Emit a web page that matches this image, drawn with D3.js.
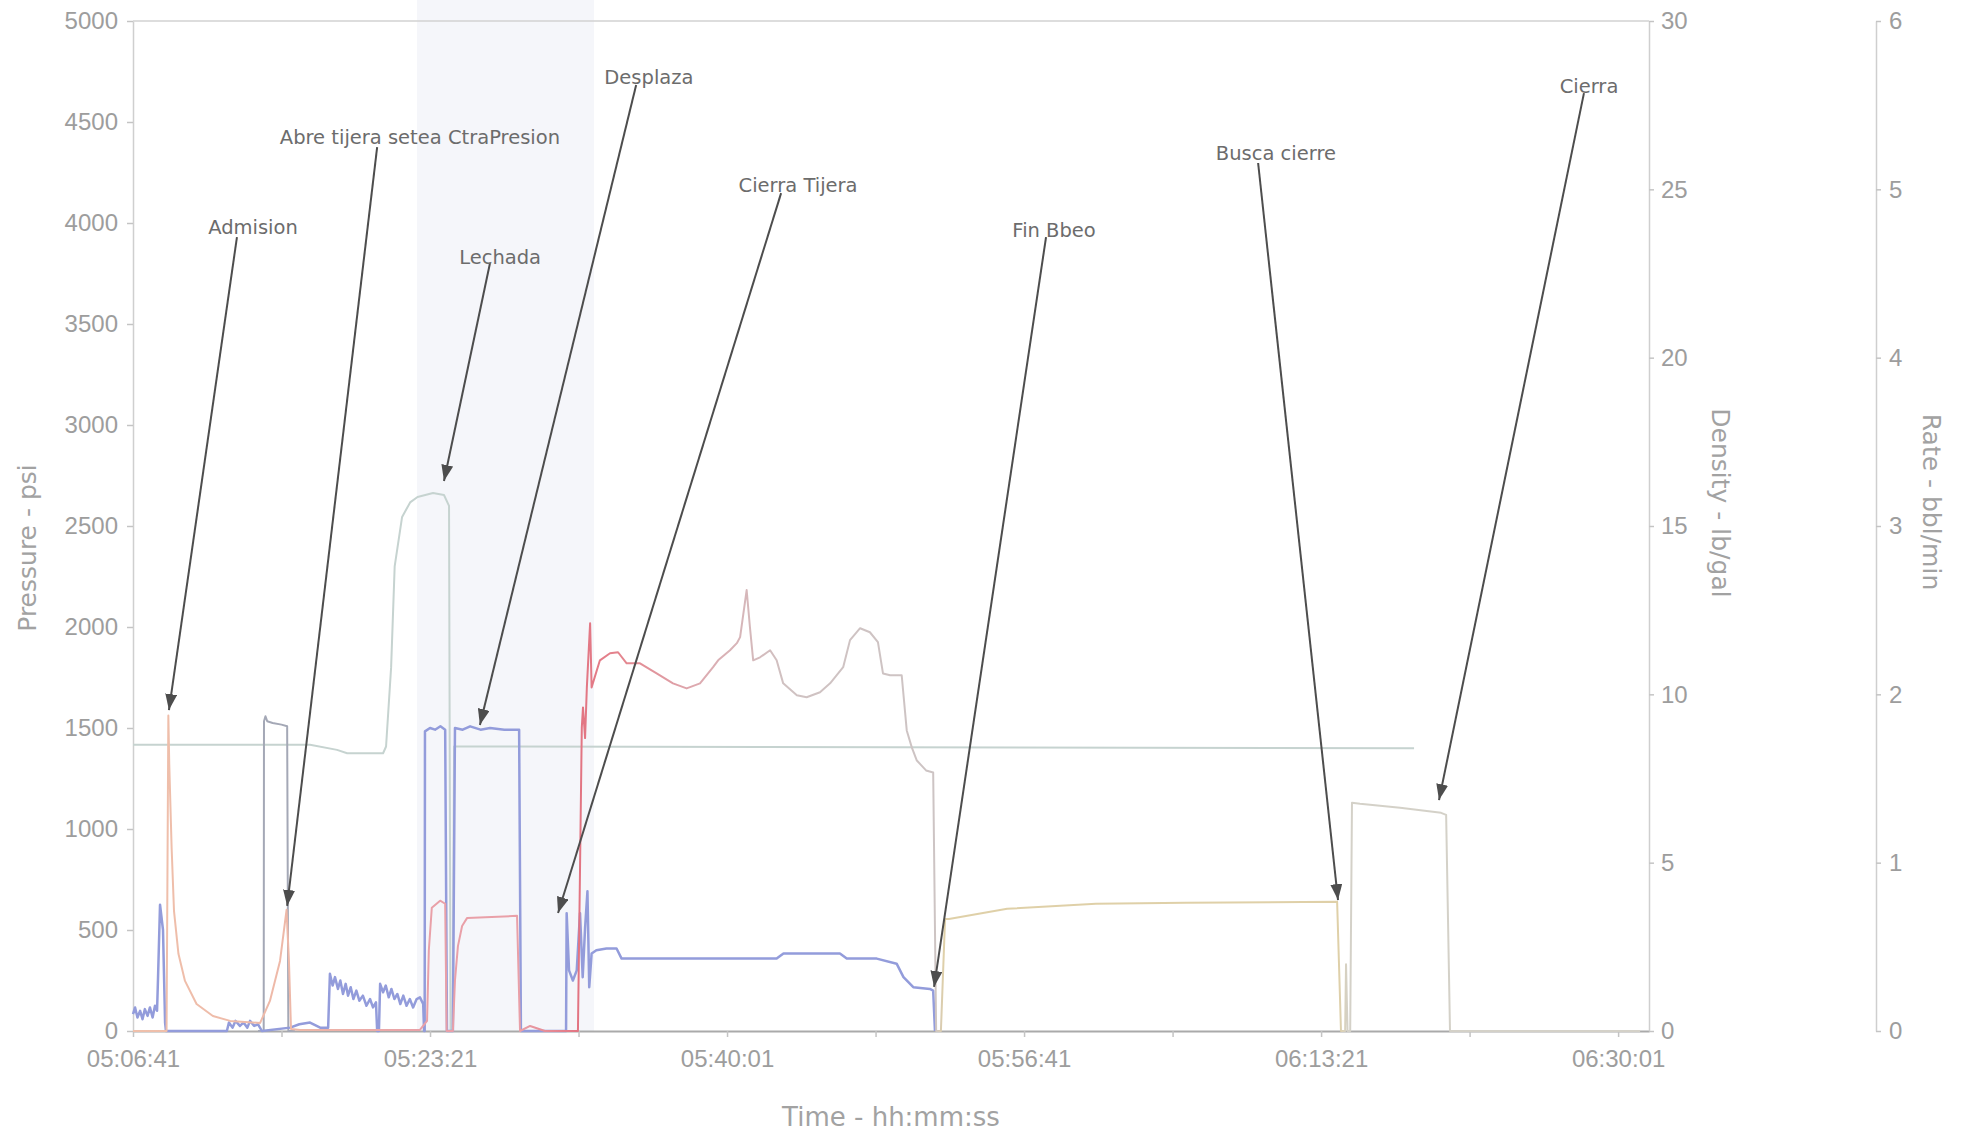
<!DOCTYPE html>
<html>
<head>
<meta charset="utf-8">
<title>Pressure / Density / Rate</title>
<script src="https://cdn.jsdelivr.net/npm/d3@7"></script>
<style>
  body { margin: 0; background: #fff; }
  svg { display: block; font-family: "DejaVu Sans", Verdana, sans-serif; }
  .axis .domain { stroke: #cfcfcf; stroke-width: 1.5; }
  .axis .tick line { stroke: #c4c4c4; stroke-width: 1.5; }
  .axis .tick text { fill: #9d9d9d; font-size: 24px; }
  .axis.x .domain { stroke: #aaaaaa; stroke-width: 2; }
  .title { fill: #a2a2a2; font-size: 25px; }
  .note text { fill: #6c6c6c; font-size: 19.5px; }
  .note line { stroke: #4d4d4d; stroke-width: 2; }
  .series { fill: none; stroke-linejoin: round; }
</style>
</head>
<body>
<svg id="chart" width="1962" height="1137"></svg>
<script>
// all times are seconds after the first sample (05:06:41)
const startClock = "05:06:41";
const endClock = "06:31:45";
const timeTickLabels = ["05:06:41", "05:23:21", "05:40:01", "05:56:41", "06:13:21", "06:30:01"];

const pressureTicks = [0, 500, 1000, 1500, 2000, 2500, 3000, 3500, 4000, 4500, 5000];
const densityTicks = [0, 5, 10, 15, 20, 25, 30];
const rateTicks = [0, 1, 2, 3, 4, 5, 6];

// Pressure - psi
const pressureTime = [0, 113, 119, 122, 130, 138, 153, 175, 214, 269, 327, 428, 461, 495, 517, 525, 532, 562,
  966, 990, 996, 1006, 1034, 1051, 1056, 1077, 1084, 1094, 1108, 1125, 1293, 1303, 1337, 1387,
  1498, 1505, 1511, 1515, 1522, 1528, 1539, 1544, 1572, 1606, 1633, 1662, 1707, 1763, 1818, 1864,
  1909, 1953, 1970, 2010, 2033, 2044, 2066, 2077, 2088, 2111, 2145, 2167, 2189, 2235, 2268, 2313,
  2347, 2391, 2414, 2448, 2481, 2508, 2525, 2549, 2588, 2605, 2622, 2639, 2670, 2694, 2704, 2720,
  2734, 2747, 2943, 3242, 3545, 4054, 4067, 4081, 4084, 4089, 4098, 4104, 4131, 4266, 4404, 4421,
  4434, 5074];
const pressureValue = [0, 0, 1562, 1324, 908, 595, 382, 248, 134, 74, 50, 40, 149, 347, 600, 347, 10, 5,
  5, 50, 400, 610, 645, 630, 0, 0, 250, 420, 520, 560, 570, 0, 25, 0,
  0, 800, 1503, 1602, 1450, 1701, 2019, 1701, 1835, 1870, 1875, 1820, 1820, 1770, 1721, 1696,
  1721, 1801, 1835, 1885, 1920, 1950, 2183, 2000, 1835, 1850, 1885, 1835, 1721, 1662, 1652, 1677,
  1721, 1801, 1935, 1994, 1974, 1925, 1770, 1761, 1761, 1488, 1404, 1339, 1290, 1280, 0, 0,
  555, 555, 605, 630, 635, 640, 0, 0, 330, 0, 0, 1130, 1125, 1105, 1080, 1070,
  0, 0];

// Density - lb/gal
const densityTime = [0, 596, 687, 721, 842, 852, 869, 881, 906, 933, 958, 1010, 1047, 1064, 1069, 1076, 1081, 4313];
const densityValue = [8.5, 8.5, 8.35, 8.25, 8.25, 8.45, 10.8, 13.8, 15.27, 15.7, 15.86, 15.98, 15.92, 15.6, 0, 0, 8.45, 8.4];

// Rate - bbl/min (blue trace)
const rateTime = [0, 7, 15, 24, 32, 40, 49, 57, 66, 74, 81, 84, 91, 101, 108, 111, 316, 323, 335, 345,
  360, 372, 385, 394, 408, 421, 434, 529, 560, 596, 630, 657, 663, 672, 680, 690, 698, 707, 716, 724,
  733, 742, 752, 762, 774, 786, 798, 808, 818, 822, 828, 832, 842, 851, 861, 870, 880, 890, 900, 910,
  921, 932, 943, 955, 966, 977, 980, 982, 983, 1000, 1017, 1035, 1051, 1057, 1077, 1084, 1110, 1135,
  1170, 1202, 1250, 1300, 1306, 1458, 1460, 1468, 1481, 1494, 1505, 1514, 1522, 1530, 1536, 1544,
  1560, 1594, 1628, 1645, 1898, 2167, 2190, 2380, 2403, 2504, 2571, 2594, 2627, 2683, 2694, 2700];
const rateValue = [0.10, 0.14, 0.08, 0.12, 0.07, 0.13, 0.09, 0.14, 0.08, 0.15, 0.12, 0.3, 0.75, 0.6, 0.05, 0, 0, 0.05, 0.02, 0.06,
  0.03, 0.05, 0.02, 0.06, 0.03, 0.04, 0, 0.02, 0.04, 0.05, 0.02, 0.02, 0.34, 0.27, 0.32, 0.25, 0.3, 0.22, 0.28, 0.21,
  0.26, 0.19, 0.24, 0.18, 0.21, 0.15, 0.19, 0.14, 0.17, 0, 0, 0.28, 0.23, 0.27, 0.2, 0.25, 0.19, 0.22, 0.16, 0.21,
  0.15, 0.19, 0.14, 0.19, 0.2, 0.16, 0, 0, 1.78, 1.80, 1.79, 1.81, 1.79, 0, 0, 1.80, 1.79, 1.81,
  1.79, 1.80, 1.79, 1.79, 0, 0, 0.70, 0.36, 0.30, 0.36, 0.70, 0.32, 0.61, 0.83, 0.26, 0.46,
  0.48, 0.49, 0.49, 0.43, 0.43, 0.43, 0.46, 0.46, 0.43, 0.43, 0.40, 0.32, 0.26, 0.25, 0.24, 0];

// second rate trace (grey)
const rate2Time = [421, 440, 441, 446, 452, 470, 500, 519, 523, 545];
const rate2Value = [0, 0, 1.84, 1.87, 1.84, 1.83, 1.82, 1.81, 0, 0];

// annotations: tip (t, p), start of the leader (fromT, fromP), text centre (textT, textP)
const notes = [
  { label: "Admision", t: 121, p: 1589, fromT: 350, fromP: 3930, textT: 404, textP: 3980 },
  { label: "Abre tijera setea CtraPresion", t: 519, p: 619, fromT: 822, fromP: 4376, textT: 966, textP: 4425 },
  { label: "Lechada", t: 1047, p: 2723, fromT: 1202, fromP: 3802, textT: 1236, textP: 3831 },
  { label: "Desplaza", t: 1168, p: 1515, fromT: 1694, fromP: 4683, textT: 1737, textP: 4722 },
  { label: "Cierra Tijera", t: 1431, p: 584, fromT: 2182, fromP: 4148, textT: 2239, textP: 4188 },
  { label: "Fin Bbeo", t: 2697, p: 218, fromT: 3074, fromP: 3930, textT: 3101, textP: 3965 },
  { label: "Busca cierre", t: 4057, p: 648, fromT: 3788, fromP: 4297, textT: 3848, textP: 4346 },
  { label: "Cierra", t: 4397, p: 1143, fromT: 4885, fromP: 4643, textT: 4902, textP: 4678 }
];

const parseClock = d3.timeParse("%H:%M:%S");
const fmtClock = d3.timeFormat("%H:%M:%S");
const t0 = parseClock(startClock);
const at = s => new Date(t0.getTime() + s * 1000);

const plotLeft = 133, plotTop = 21, plotRight = 1649, plotBottom = 1031;
const rateAxisX = 1876;

const svg = d3.select("#chart");

const x = d3.scaleTime().domain([t0, parseClock(endClock)]).range([plotLeft, plotRight]);
const yP = d3.scaleLinear().domain([0, 5000]).range([plotBottom, plotTop]);
const yD = d3.scaleLinear().domain([0, 30]).range([plotBottom, plotTop]);
const yR = d3.scaleLinear().domain([0, 6]).range([plotBottom, plotTop]);

// faint band left by the scan
svg.append("rect").attr("x", 417).attr("y", 0).attr("width", 177).attr("height", plotBottom).attr("fill", "#f5f6fa");

const defs = svg.append("defs");
defs.append("marker")
  .attr("id", "arrow")
  .attr("markerUnits", "userSpaceOnUse")
  .attr("viewBox", "0 0 16 12")
  .attr("markerWidth", 16).attr("markerHeight", 12)
  .attr("refX", 16).attr("refY", 6)
  .attr("orient", "auto")
  .append("path").attr("d", "M0,0L16,6L0,12Z").attr("fill", "#4d4d4d");

// pressure trace colour drifts along the record
const pressureStops = [[0, "#efc0ab"], [560, "#eeb8a8"], [980, "#e9a0a8"], [1300, "#e9a0a8"], [1500, "#e27482"],
  [1650, "#e4868f"], [1900, "#ddaab0"], [2200, "#d0c2c2"], [2700, "#cdc4c4"], [2730, "#dfd0a8"],
  [4060, "#dfd0a8"], [4090, "#d4d1c8"], [5104, "#d4d1c8"]];
const grad = defs.append("linearGradient")
  .attr("id", "pGrad")
  .attr("gradientUnits", "userSpaceOnUse")
  .attr("x1", plotLeft).attr("x2", plotRight).attr("y1", 0).attr("y2", 0);
pressureStops.forEach(([s, c]) => {
  grad.append("stop").attr("offset", (x(at(s)) - plotLeft) / (plotRight - plotLeft)).attr("stop-color", c);
});

// axes
const minorTimes = d3.range(0, 5001, 500).map(at);
const labelSet = new Set(timeTickLabels);

svg.append("g").attr("class", "axis x")
  .attr("transform", `translate(0,${plotBottom})`)
  .call(d3.axisBottom(x).tickValues(minorTimes).tickSize(6).tickSizeOuter(0).tickPadding(13)
    .tickFormat(d => labelSet.has(fmtClock(d)) ? fmtClock(d) : ""));

svg.append("g").attr("class", "axis")
  .attr("transform", `translate(${plotLeft},0)`)
  .call(d3.axisLeft(yP).tickValues(pressureTicks).tickFormat(d3.format("d"))
    .tickSize(6).tickSizeOuter(0).tickPadding(9));

svg.append("g").attr("class", "axis")
  .attr("transform", `translate(${plotRight},0)`)
  .call(d3.axisRight(yD).tickValues(densityTicks).tickFormat(d3.format("d"))
    .tickSize(5).tickSizeOuter(0).tickPadding(7));

svg.append("g").attr("class", "axis")
  .attr("transform", `translate(${rateAxisX},0)`)
  .call(d3.axisRight(yR).tickValues(rateTicks).tickFormat(d3.format("d"))
    .tickSize(5).tickSizeOuter(0).tickPadding(8));

svg.append("line")
  .attr("x1", plotLeft).attr("x2", plotRight).attr("y1", plotTop).attr("y2", plotTop)
  .attr("stroke", "#d2d2d2").attr("stroke-width", 1.5);

// axis titles
svg.append("text").attr("class", "title")
  .attr("transform", "translate(27,548) rotate(-90)")
  .attr("text-anchor", "middle").attr("dy", "0.35em")
  .text("Pressure - psi");
svg.append("text").attr("class", "title")
  .attr("transform", "translate(1721,503) rotate(90)")
  .attr("text-anchor", "middle").attr("dy", "0.35em")
  .text("Density - lb/gal");
svg.append("text").attr("class", "title")
  .attr("transform", "translate(1932,502) rotate(90)")
  .attr("text-anchor", "middle").attr("dy", "0.35em")
  .text("Rate - bbl/min");
svg.append("text").attr("class", "title")
  .attr("x", 891).attr("y", 1117)
  .attr("text-anchor", "middle").attr("dy", "0.35em")
  .style("font-size", "26px")
  .text("Time - hh:mm:ss");

// traces
function drawSeries(times, values, yScale, stroke, width) {
  const line = d3.line()
    .x(d => x(at(d[0])))
    .y(d => yScale(d[1]));
  svg.append("path")
    .datum(d3.zip(times, values))
    .attr("class", "series")
    .attr("d", line)
    .attr("stroke", stroke)
    .attr("stroke-width", width);
}

drawSeries(densityTime, densityValue, yD, "#c6d3d0", 2);
drawSeries(rate2Time, rate2Value, yR, "#a4a8b6", 2);
drawSeries(rateTime, rateValue, yR, "#939cdb", 2.5);
drawSeries(pressureTime, pressureValue, yP, "url(#pGrad)", 2);

// annotations
const note = svg.append("g").attr("class", "note")
  .selectAll("g")
  .data(notes)
  .join("g");

note.append("line")
  .attr("x1", d => x(at(d.fromT))).attr("y1", d => yP(d.fromP))
  .attr("x2", d => x(at(d.t))).attr("y2", d => yP(d.p))
  .attr("marker-end", "url(#arrow)");

note.append("text")
  .attr("x", d => x(at(d.textT)))
  .attr("y", d => yP(d.textP))
  .attr("text-anchor", "middle")
  .attr("dy", "0.35em")
  .text(d => d.label);
</script>
</body>
</html>
